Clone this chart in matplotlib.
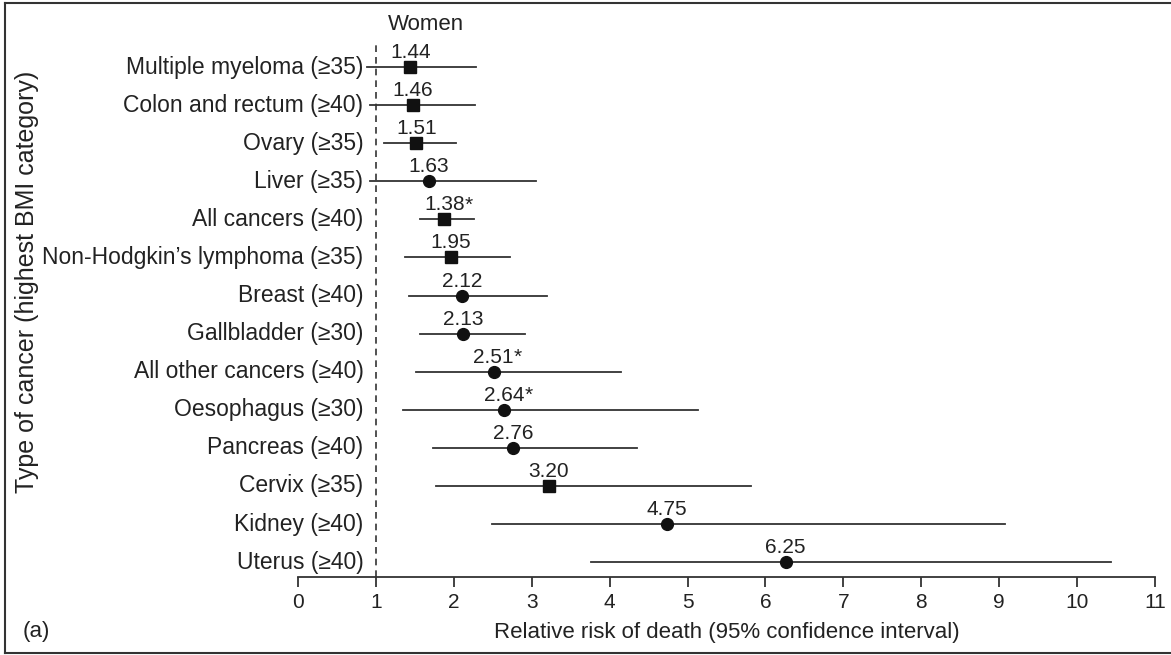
import matplotlib.pyplot as plt
from matplotlib.lines import Line2D

plt.rcParams['font.family'] = ['Liberation Sans', 'DejaVu Sans']

# data (top row first)
cancers = ["Multiple myeloma (\u226535)", "Colon and rectum (\u226540)", "Ovary (\u226535)",
           "Liver (\u226535)", "All cancers (\u226540)", "Non-Hodgkin\u2019s lymphoma (\u226535)",
           "Breast (\u226540)", "Gallbladder (\u226530)", "All other cancers (\u226540)",
           "Oesophagus (\u226530)", "Pancreas (\u226540)", "Cervix (\u226535)",
           "Kidney (\u226540)", "Uterus (\u226540)"]
rr_text = ["1.44", "1.46", "1.51", "1.63", "1.38*", "1.95", "2.12", "2.13",
           "2.51*", "2.64*", "2.76", "3.20", "4.75", "6.25"]
rr = [1.44, 1.47, 1.52, 1.68, 1.88, 1.96, 2.11, 2.12, 2.51, 2.65, 2.76, 3.22, 4.74, 6.26]
ci_low = [0.89, 0.93, 1.10, 0.93, 1.57, 1.37, 1.42, 1.57, 1.52, 1.35, 1.73, 1.77, 2.49, 3.76]
ci_high = [2.28, 2.27, 2.03, 3.06, 2.26, 2.72, 3.20, 2.92, 4.15, 5.14, 4.35, 5.81, 9.08, 10.43]
square = [True, True, True, False, True, True, False, False, False, False, False, True, False, False]

W, H = 1171, 655
fig = plt.figure(figsize=(W / 100, H / 100), dpi=100)
ax = fig.add_axes([298 / W, 1 - 577 / H, (1155 - 298) / W, (577 - 45) / H])

ink = "#222222"
for i in range(len(cancers)):
    ax.plot([ci_low[i], ci_high[i]], [i, i], color="#333333", lw=1.3, zorder=2)
    ax.plot(rr[i], i, marker="s" if square[i] else "o", ms=8.5,
            color="#111111", zorder=3)
    # number centred on the marker, asterisk hanging off to the right
    num = rr_text[i].rstrip("*")
    t = ax.annotate(num, (rr[i], i), xytext=(0, 6.5), textcoords="offset points",
                    ha="center", va="baseline", fontsize=15, color=ink)
    if rr_text[i].endswith("*"):
        ax.annotate("*", xy=(1, 1), xycoords=t, ha="left", va="top",
                    fontsize=15, color=ink)
    ax.text(0.84, i, cancers[i], ha="right", va="center", fontsize=16.5, color=ink)

ax.axvline(1, color="#333333", lw=1.2, ls=(0, (4, 3)), zorder=1)

ax.set_xlim(0, 11)
ax.set_ylim(13.39, -0.58)
ax.set_xticks(range(0, 12))
ax.set_yticks([])
for s in ["top", "right", "left"]:
    ax.spines[s].set_visible(False)
ax.spines["bottom"].set_color("#333333")
ax.spines["bottom"].set_linewidth(1.3)
ax.tick_params(axis="x", direction="out", length=7.5, width=1.3, color="#333333",
               labelsize=15, labelcolor=ink, pad=4)
ax.set_xlabel("Relative risk of death (95% confidence interval)", fontsize=16,
              color=ink, labelpad=7)

fig.text(426 / W, 1 - 24 / H, "Women", ha="center", va="center", fontsize=16, color=ink)
fig.text(27 / W, 1 - 282 / H, "Type of cancer (highest BMI category)", rotation=90,
         ha="center", va="center", fontsize=18, color=ink)
fig.text(36 / W, 1 - 632 / H, "(a)", ha="center", va="center", fontsize=16, color=ink)

# frame round the figure
x0, x1 = 5 / W, 1.0
y0, y1 = 1 - 653 / H, 1 - 3 / H
for xs, ys in [([x0, x1], [y1, y1]), ([x0, x1], [y0, y0]), ([x0, x0], [y0, y1])]:
    fig.add_artist(Line2D(xs, ys, color="#333333", lw=1.5))

fig.savefig("out.png", dpi=100)
